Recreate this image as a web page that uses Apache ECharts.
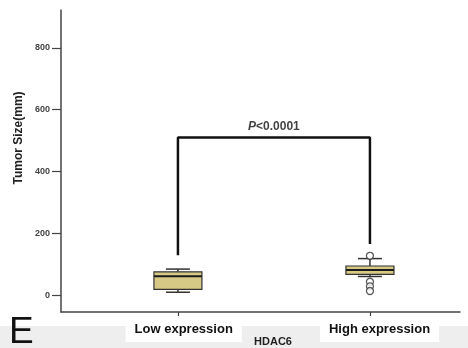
<!DOCTYPE html>
<html><head><meta charset="utf-8">
<script src="https://cdn.jsdelivr.net/npm/echarts@6/dist/echarts.min.js"></script>
<style>html,body{margin:0;padding:0;background:#fff}#c{width:468px;height:348px}</style>
</head><body><div id="c"></div>
<script>
const groups = ['Low expression', 'High expression'];
// [min, Q1, median, Q3, max]
const boxStats = [[9, 18, 61, 75, 84], [60, 67, 81, 94, 118]];
const outliers = [[1, 127], [1, 43], [1, 28], [1, 13]];
const yTicks = [0, 200, 400, 600, 800];
const bracket = [[0, 129], [0, 510], [1, 510], [1, 165]];
const pLabelPos = [[0.5, 510]];
const xTitle = 'HDAC6';
const yTitle = 'Tumor Size(mm)';
const panelLetter = 'E';

const FONT = 'Liberation Sans, Arial, sans-serif';
const chart = echarts.init(document.getElementById('c'), null, {renderer: 'canvas'});

const boxData = boxStats.map((s, i) => [i].concat(s));

chart.setOption({
  animation: false,
  backgroundColor: '#fff',
  grid: {left: 61, right: 8, top: 10, bottom: 36, containLabel: false, outerBoundsMode: 'none'},
  graphic: {elements: [
    {type: 'rect', z: -10, left: 0, top: 326, shape: {width: 468, height: 22}, style: {fill: '#eeeeee'}},
    {type: 'text', left: 9, top: 314, style: {text: panelLetter, font: '37px ' + FONT, fill: '#111'}},
    {type: 'text', x: 19, y: 138, rotation: Math.PI / 2,
     style: {text: yTitle, font: 'bold 12px ' + FONT, fill: '#222', align: 'center', verticalAlign: 'middle'}}
  ]},
  xAxis: {
    type: 'value', min: -0.609, max: 1.469,
    axisLine: {show: true, onZero: false, lineStyle: {color: '#444', width: 1.5}},
    splitLine: {show: false},
    axisTick: {show: true, length: 4, customValues: [0, 1], lineStyle: {color: '#444', width: 1.2}},
    axisLabel: {
      customValues: [0.03, 1.05], margin: 4,
      formatter: v => groups[Math.round(v)],
      color: '#111', fontFamily: FONT, fontWeight: 'bold', fontSize: 13,
      backgroundColor: '#fff', padding: [6, 9, 5, 9], lineHeight: 15
    },
    name: xTitle, nameLocation: 'middle', nameGap: 24, nameMoveOverlap: false,
    nameTextStyle: {color: '#222', fontFamily: FONT, fontWeight: 'bold', fontSize: 11, padding: [0, 0, 0, 25]}
  },
  yAxis: {
    type: 'value', min: -55, max: 923,
    axisLine: {show: true, onZero: false, lineStyle: {color: '#444', width: 1.5}},
    splitLine: {show: false},
    axisTick: {show: true, inside: false, length: 9, customValues: yTicks, lineStyle: {color: '#444', width: 1.2}},
    axisLabel: {customValues: yTicks, margin: 11, color: '#444', fontFamily: FONT, fontSize: 9, fontWeight: 'bold'}
  },
  series: [
    {
      type: 'custom', data: boxData, encode: {x: 0, y: [1, 2, 3, 4, 5]}, z: 3,
      renderItem: function (params, api) {
        const x = api.value(0);
        const p = k => api.coord([x, api.value(k)]);
        const pMin = p(1), pQ1 = p(2), pMed = p(3), pQ3 = p(4), pMax = p(5);
        const cx = pMin[0], bw = 48, cw = 24;
        const ls = {stroke: '#333', lineWidth: 1.5};
        return {type: 'group', children: [
          {type: 'line', shape: {x1: cx, y1: pMin[1], x2: cx, y2: pQ1[1]}, style: ls},
          {type: 'line', shape: {x1: cx, y1: pQ3[1], x2: cx, y2: pMax[1]}, style: ls},
          {type: 'line', shape: {x1: cx - cw / 2, y1: pMin[1], x2: cx + cw / 2, y2: pMin[1]}, style: ls},
          {type: 'line', shape: {x1: cx - cw / 2, y1: pMax[1], x2: cx + cw / 2, y2: pMax[1]}, style: ls},
          {type: 'rect', shape: {x: cx - bw / 2, y: pQ3[1], width: bw, height: pQ1[1] - pQ3[1]},
           style: {fill: '#d6c985', stroke: '#333', lineWidth: 1.2}},
          {type: 'line', shape: {x1: cx - bw / 2, y1: pMed[1], x2: cx + bw / 2, y2: pMed[1]}, style: {stroke: '#1a1a1a', lineWidth: 2}}
        ]};
      }
    },
    {
      type: 'scatter', data: outliers, symbol: 'circle', symbolSize: 7, z: 4,
      itemStyle: {color: '#fff', borderColor: '#333', borderWidth: 1.3}
    },
    {
      type: 'line', data: bracket, symbol: 'none', z: 5,
      lineStyle: {color: '#111', width: 2.5}
    },
    {
      type: 'scatter', data: pLabelPos, symbolSize: 0, z: 6, silent: true,
      label: {show: true, position: 'top', distance: 5, formatter: '{i|P}{n|<0.0001}',
        rich: {i: {fontStyle: 'italic', fontWeight: 'bold', fontSize: 12, fontFamily: FONT, color: '#111'},
               n: {fontWeight: 'bold', fontSize: 12, fontFamily: FONT, color: '#111'}}}
    }
  ]
});
</script></body></html>
